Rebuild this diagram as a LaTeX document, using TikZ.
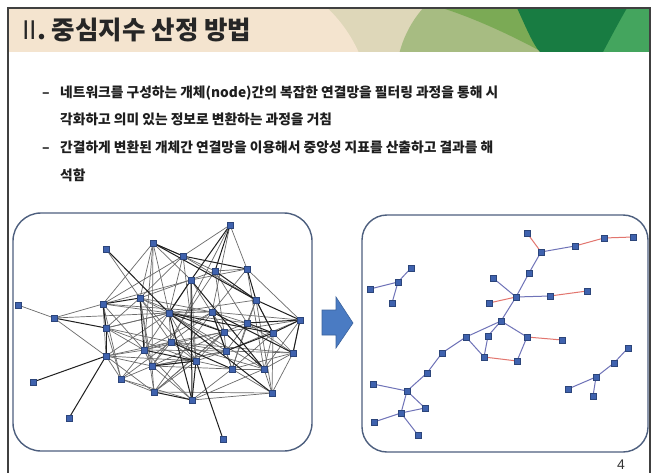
\documentclass[tikz,border=0pt]{standalone}
\usepackage{fontspec}
\newfontfamily\kr{Noto Sans CJK KR}
\newfontfamily\numfont{Liberation Sans}
\definecolor{beige}{HTML}{F4E4CF}
\definecolor{tanc}{HTML}{DED7B9}
\definecolor{lgreen}{HTML}{A7BC82}
\definecolor{mgreen}{HTML}{7BAA55}
\definecolor{dgreen}{HTML}{187C42}
\definecolor{bgreen}{HTML}{44A55E}
\definecolor{panelc}{HTML}{4D5F7E}
\definecolor{nodeblue}{HTML}{3F62AE}
\definecolor{arrowblue}{HTML}{4A7BC3}
\definecolor{edgeblue}{HTML}{6F73B8}
\definecolor{edgered}{HTML}{E2756E}
\definecolor{textc}{HTML}{1E1E1E}
\tikzset{
  nd/.style={rectangle, minimum size=6.5pt, inner sep=0pt, fill=nodeblue, draw=nodeblue!70!black, line width=0.4pt},
  ge/.style={draw=black!58, line width=0.7pt},
  he/.style={draw=black!88, line width=1pt},
  be/.style={draw=edgeblue, line width=1pt},
  re/.style={draw=edgered, line width=1pt},
  panel/.style={draw=panelc, line width=1.4pt},
  txt/.style={anchor=base west, inner sep=0pt, text=textc, font=\kr\bfseries\fontsize{13.75}{16}\selectfont}
}
\begin{document}
\begin{tikzpicture}[x=1pt,y=-1pt]
\useasboundingbox (0,0) rectangle (655,473);
\fill[white] (0,0) rectangle (655,473);
% header band
\begin{scope}
\clip (8,8) rectangle (650,52);
\fill[beige] (8,8) rectangle (650,52);
\fill[tanc] (300,8) rectangle (650,52);
\fill[beige] (230,110) circle (141pt);
\fill[lgreen] (505,80) circle (109pt);
\fill[bgreen] (595,8) rectangle (650,52);
\fill[mgreen] (442,8) .. controls (480,20) and (520,40) .. (542,52) -- (560,52) -- (540,8) -- cycle;
\fill[dgreen] (517,8) .. controls (525,25) and (533,45) .. (540,52) -- (603,52) .. controls (612,35) and (620,20) .. (627,8) -- cycle;
\end{scope}
% outer frame
\draw[black!75, line width=1.2pt] (8,473) -- (8,8) -- (650,8) -- (650,473);
% title
\node[anchor=base west, inner sep=0pt, text=black!85, font=\kr\bfseries\fontsize{25.5}{30}\selectfont] (title) at (22,40) {{\mdseries II}. 중심지수 산정 방법};
% bullets
\node[txt] (d1) at (42,98) {–};
\node[txt] (t1) at (60,98) {네트워크를 구성하는 개체(node)간의 복잡한 연결망을 필터링 과정을 통해 시};
\node[txt] (t2) at (60,125) {각화하고 의미 있는 정보로 변환하는 과정을 거침};
\node[txt] (d3) at (42,153) {–};
\node[txt] (t3) at (60,153) {간결하게 변환된 개체간 연결망을 이용해서 중앙성 지표를 산출하고 결과를 해};
\node[txt] (t4) at (60,180) {석함};
% panels
\draw[panel, rounded corners=28pt] (13,213) rectangle (312,451);
\draw[panel, rounded corners=25pt] (362,215) rectangle (648,452);
% arrow
\fill[arrowblue, draw=arrowblue!80!black, line width=0.6pt] (322,310) -- (336,310) -- (336,297) -- (353,323) -- (336,348) -- (336,335) -- (322,335) -- cycle;
% left network nodes
\foreach \n/\x/\y in {1/230/225,2/106/249,3/153/243,4/183/256,5/215/271,6/247/269,7/191/280,8/256/300,9/18/305,10/54/318,11/103/304,12/140/298,13/169/313,14/212/312,15/247/323,16/300/320,17/106/328,18/224/332,19/273/333,20/171/342,21/144/350,22/226/351,23/293/353,24/106/356,25/196/361,26/152/366,27/232/369,28/264/369,29/121/379,30/33/382,31/154/392,32/272/393,33/192/400,34/69/418,35/223/439}
  \coordinate (P\n) at (\x,\y);
% light edges
\foreach \a/\b in {1/4,1/6,1/14,1/20,3/4,3/7,3/13,3/21,3/26,4/5,4/8,4/11,4/12,4/13,4/25,5/6,5/15,5/12,5/18,5/26,6/14,6/7,6/28,7/11,7/18,7/21,7/25,8/15,8/19,8/13,8/27,8/32,9/10,10/11,10/24,11/17,11/24,11/13,11/21,11/29,11/3,12/13,12/14,12/20,12/26,12/31,12/17,13/14,13/15,13/25,13/22,13/28,13/20,13/17,13/24,14/15,14/18,14/16,14/27,14/21,14/31,14/20,15/23,15/18,15/27,15/22,16/23,16/28,16/18,16/22,17/20,17/21,17/29,18/20,18/22,18/25,18/26,18/31,19/23,19/28,19/32,19/27,20/21,20/22,20/25,20/26,20/23,20/28,21/24,21/26,21/29,21/22,21/33,22/25,22/27,22/23,22/26,23/27,23/28,23/32,24/29,24/26,24/31,24/25,25/26,25/27,25/31,26/29,26/31,26/27,26/33,27/28,27/32,27/33,28/32,29/31,29/33,31/32,33/32,11/14,12/25,17/25,3/12,6/16,2/12,10/13,17/13,24/20,29/20,31/18,33/28,26/22,21/18,12/18}
  \draw[ge] (P\a) -- (P\b);
% heavy edges
\foreach \a/\b in {1/5,1/7,3/8,4/6,5/8,6/8,7/13,7/33,8/16,2/13,10/17,11/12,13/19,13/33,13/32,15/16,15/19,16/19,19/22,17/24,24/30,24/34,25/35,25/33,31/33,13/18,14/22,7/28,21/25,12/21,11/17,3/4,14/23,18/28,20/27,26/25,8/19,16/23}
  \draw[he] (P\a) -- (P\b);
\foreach \n in {1,...,35}
  \node[nd] (L\n) at (P\n) {};
% right network
\foreach \n/\x/\y in {a/527/233,b/541/252,c/575/246,d/604/238,e/633/237,f/529/273,g/493/278,h/516/297,i/550/296,j/587/291,k/489/303,l/501/321,m/527/337,n/562/340,o/466/337,p/488/336,q/484/357,r/517/361,s/442/353,t/427/373,u/407/391,v/373/384,w/425/408,x/401/413,y/374/422,z/418/435,A/411/268,B/398/282,C/370/289,D/392/303,E/628/348,F/614/363,G/596/377,H/568/389,I/593/396}
  \coordinate (Q\n) at (\x,\y);
\foreach \a/\b in {b/c,b/f,f/h,g/h,h/i,h/l,l/o,l/p,l/m,m/r,p/q,o/q,o/s,s/t,t/u,u/v,u/w,u/x,x/w,x/y,x/z,A/B,B/C,B/D,E/F,F/G,G/H,G/I}
  \draw[be] (Q\a) -- (Q\b);
\foreach \a/\b in {a/b,c/d,d/e,i/j,k/h,m/n,q/r}
  \draw[re] (Q\a) -- (Q\b);
\foreach \n in {a,b,c,d,e,f,g,h,i,j,k,l,m,n,o,p,q,r,s,t,u,v,w,x,y,z,A,B,C,D,E,F,G,H,I}
  \node[nd] (R\n) at (Q\n) {};
% page number
\node[anchor=base, inner sep=0pt, text=black!80, font=\numfont\fontsize{14}{16}\selectfont] (pg) at (621,469) {4};
\end{tikzpicture}
\end{document}
